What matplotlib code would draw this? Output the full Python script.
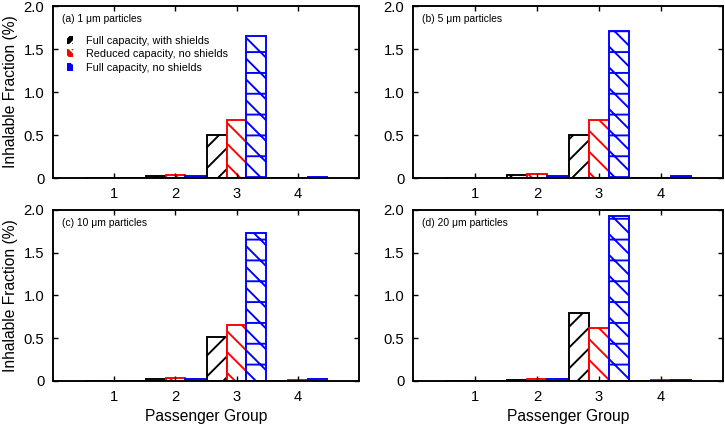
"""Inhalable fraction per passenger group, four particle sizes."""

import numpy as np
import matplotlib.pyplot as plt
from matplotlib.patches import Patch

plt.rcParams["font.family"] = ["Liberation Sans", "DejaVu Sans"]
plt.rcParams["hatch.linewidth"] = 1.1

# Daten
gruppen = [1, 2, 3, 4]
serien = ["Full capacity, with shields",
          "Reduced capacity, no shields",
          "Full capacity, no shields"]
titel = ["(a) 1 \u03bcm particles", "(b) 5 \u03bcm particles",
         "(c) 10 \u03bcm particles", "(d) 20 \u03bcm particles"]

# je Panel: [mit Schilden, reduziert, volle Kapazitaet] fuer Gruppen 1-4
werte_a = [[0, 0.02, 0.50, 0.0], [0, 0.04, 0.67, 0.005], [0, 0.02, 1.65, 0.015]]
werte_b = [[0, 0.03, 0.50, 0.0], [0, 0.05, 0.68, 0.005], [0, 0.02, 1.71, 0.02]]
werte_c = [[0, 0.02, 0.51, 0.0], [0, 0.04, 0.66, 0.01], [0, 0.02, 1.73, 0.02]]
werte_d = [[0, 0.01, 0.79, 0.0], [0, 0.02, 0.62, 0.01], [0, 0.02, 1.93, 0.01]]

y_ticks = [0, 0.5, 1.0, 1.5, 2.0]
y_labels = ["0", "0.5", "1.0", "1.5", "2.0"]

farben = ["black", "#ff0000", "#0000ff"]
muster = ["//", "\\\\", "\\\\-"]
BREITE = 0.32

fig = plt.figure(figsize=(5.8, 3.432), dpi=125)
positionen = [
    [0.0731, 0.585, 0.422, 0.401],
    [0.5697, 0.585, 0.4276, 0.401],
    [0.0731, 0.1119, 0.422, 0.3986],
    [0.5697, 0.1119, 0.4276, 0.3986],
]
alle_werte = [werte_a, werte_b, werte_c, werte_d]

x = np.array(gruppen, dtype=float)
for k, (pos, werte) in enumerate(zip(positionen, alle_werte)):
    ax = fig.add_axes(pos)
    for j, (w, f, m) in enumerate(zip(werte, farben, muster)):
        ax.bar(x + (j - 1) * BREITE, w, BREITE, facecolor="white",
               edgecolor=f, hatch=m, linewidth=1.1)
    ax.set_xlim(0, 5)
    ax.set_ylim(0, 2.0)
    ax.set_xticks(gruppen)
    ax.set_yticks(y_ticks)
    ax.set_yticklabels(y_labels)
    ax.tick_params(direction="in", top=True, right=True, length=3,
                   width=0.8, labelsize=8.5, pad=5)
    for s in ax.spines.values():
        s.set_linewidth(1.1)
        s.set_zorder(3)
    ax.annotate(titel[k], xy=(0, 1), xycoords="axes fraction",
                xytext=(5, -7.5), textcoords="offset points",
                fontsize=5.9, va="center", ha="left")
    if k % 2 == 0:
        ax.set_ylabel("Inhalable Fraction (%)", fontsize=9, labelpad=3)
    if k >= 2:
        ax.set_xlabel("Passenger Group", fontsize=9, labelpad=3)
    if k == 0:
        griffe = [Patch(facecolor=f, edgecolor="white", hatch=h, linewidth=0)
                  for f, h in zip(farben, ["////", "\\\\\\\\", ".."])]
        ax.legend(griffe, serien, loc="upper left",
                  bbox_to_anchor=(0.045, 0.828), frameon=False, fontsize=6.3,
                  handlelength=0.6, handleheight=0.8, handletextpad=1.2,
                  labelspacing=0.32, borderpad=0, borderaxespad=0)

fig.savefig("out.png", dpi=125)
